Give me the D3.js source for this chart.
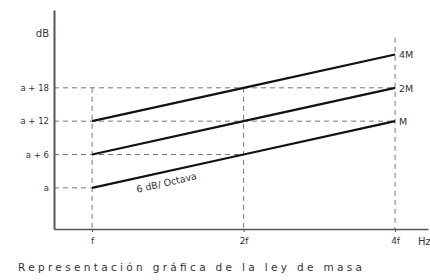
<!DOCTYPE html>
<html><head><meta charset="utf-8">
<script src="https://cdn.jsdelivr.net/npm/d3@7"></script>
<style>body{margin:0;background:#fff}svg{display:block}text{font-family:"DejaVu Sans",sans-serif;fill:#333}</style>
</head><body><svg width="430" height="280"></svg>
<script>
const freqs = [1, 2, 4];
const freqLabels = ["f", "2f", "4f"];
const levels = [0, 6, 12, 18];
const levelLabels = ["a", "a + 6", "a + 12", "a + 18"];
const seriesNames = ["M", "2M", "4M"];
const seriesValues = [[0, 6, 12], [6, 12, 18], [12, 18, 24]];
const guideEnds = [1, 2, 4, 4]; // horizontal guides reach this frequency
const xUnit = "Hz";
const yUnit = "dB";
const slopeLabel = "6 dB/ Octava";
const caption = "Representación gráfica de la ley de masa";

const svg = d3.select("svg");
const x = d3.scaleLog().base(2).domain([0.84, 4.65]).range([54, 428]);
const y = d3.scaleLinear().domain([-7.4, 32]).range([229, 10]);
const x0 = x.range()[0], y0 = y.range()[0];

// guides
const g = svg.append("g").attr("stroke", "#777").attr("stroke-width", 1).attr("stroke-dasharray", "5,4");
levels.forEach((l, i) => g.append("line").attr("x1", x0).attr("x2", x(guideEnds[i])).attr("y1", y(l)).attr("y2", y(l)));
const vTop = [18, 18, 27];
freqs.forEach((f, i) => g.append("line").attr("x1", x(f)).attr("x2", x(f)).attr("y1", y(vTop[i])).attr("y2", y0));

// axes
const xa = svg.append("g").attr("transform", `translate(0,${y0})`)
  .call(d3.axisBottom(x).tickValues(freqs).tickFormat((d, i) => freqLabels[i]).tickSize(3).tickSizeOuter(0).tickPadding(6));
xa.select(".domain").attr("stroke", "#555").attr("stroke-width", 1.5);
xa.selectAll(".tick line").attr("stroke", "#555");
xa.selectAll("text").attr("font-size", 9).attr("fill", "#333").attr("font-family", "DejaVu Sans");
svg.append("text").attr("x", 418).attr("y", 245).attr("font-size", 10).text(xUnit);

const ya = svg.append("g").attr("transform", `translate(${x0},0)`)
  .call(d3.axisLeft(y).tickValues(levels).tickFormat((d, i) => levelLabels[i]).tickSize(0).tickSizeOuter(0).tickPadding(5));
ya.select(".domain").attr("stroke", "#555").attr("stroke-width", 2);
ya.selectAll("text").attr("font-size", 8.5).attr("fill", "#333").attr("font-family", "DejaVu Sans");
svg.append("text").attr("x", 49).attr("y", 37).attr("text-anchor", "end").attr("font-size", 10).text(yUnit);

// series lines
const line = d3.line().x((d, i) => x(freqs[i])).y(d => y(d));
seriesValues.forEach((s, k) => {
  svg.append("path").attr("d", line(s)).attr("fill", "none").attr("stroke", "#111").attr("stroke-width", 2.2);
  svg.append("text").attr("x", x(freqs[2]) + 4).attr("y", y(s[2]) + 4).attr("font-size", 9.5).text(seriesNames[k]);
});

// slope label
const sx = x(1.23), sy = y(0) + 5;
svg.append("text").attr("transform", `translate(${sx},${sy}) rotate(-13)`).attr("font-size", 9.5).text(slopeLabel);

// caption
svg.append("text").attr("x", 18).attr("y", 271).attr("font-size", 10.5)
  .attr("textLength", 344).attr("lengthAdjust", "spacing").text(caption);
</script></body></html>
